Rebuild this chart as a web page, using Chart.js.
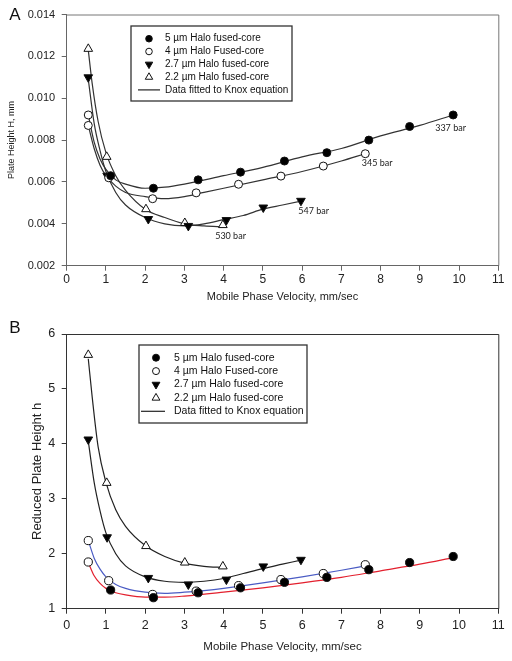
<!DOCTYPE html>
<html>
<head>
<meta charset="utf-8">
<script src="https://cdn.jsdelivr.net/npm/chart.js@4.4.1/dist/chart.umd.min.js"></script>
<style>
  body { margin: 0; background: #fff; }
  #wrap { position: relative; width: 512px; height: 661px; }
  canvas { position: absolute; left: 0; }
  #panelA { top: 0; }
  #panelB { top: 320px; }
</style>
</head>
<body>
<div id="wrap">
  <canvas id="panelA" width="512" height="320"></canvas>
  <canvas id="panelB" width="512" height="341"></canvas>
</div>
<script>
// values
const seriesNames = [
  "5 \u00b5m Halo fused-core",
  "4 \u00b5m Halo Fused-core",
  "2.7 \u00b5m Halo fused-core",
  "2.2 \u00b5m Halo fused-core",
];
const fitName = "Data fitted to Knox equation";
const barLabels = ["337 bar", "345 bar", "547 bar", "530 bar"];

// mobile phase velocity, mm/sec
const v5 = [0.55, 1.12, 2.21, 3.35, 4.43, 5.55, 6.63, 7.70, 8.74, 9.85];
const v4 = [0.55, 1.07, 2.19, 3.30, 4.38, 5.46, 6.54, 7.61];
const v27 = [0.55, 1.03, 2.08, 3.10, 4.07, 5.01, 5.97];
const v22 = [0.55, 1.02, 2.02, 3.01, 3.98];

// panel A - plate height H, mm
const H5 = [0.0092, 0.0063, 0.0057, 0.0061, 0.00647, 0.0070, 0.0074, 0.0080, 0.00865, 0.0092];
const H4 = [0.0087, 0.0062, 0.0052, 0.00548, 0.00589, 0.00628, 0.00676, 0.00735];
const H27 = [0.0110, 0.0063, 0.00423, 0.0039, 0.00418, 0.00478, 0.0051];
const H22 = [0.01236, 0.0072, 0.0047, 0.00404, 0.00394];

// panel B - reduced plate height h
const h5 = [1.85, 1.34, 1.20, 1.29, 1.38, 1.48, 1.57, 1.71, 1.84, 1.95];
const h4 = [2.24, 1.51, 1.26, 1.32, 1.42, 1.53, 1.64, 1.80];
const h27 = [4.08, 2.30, 1.56, 1.44, 1.53, 1.77, 1.89];
const h22 = [5.62, 3.29, 2.14, 1.84, 1.77];

// Knox fit curves
const fitV5 = [0.55, 0.7, 0.85, 1.0, 1.25, 1.5, 2.0, 2.5, 3.0, 4.0, 5.0, 6.0, 7.0, 8.0, 9.0, 9.85];
const fitV4 = [0.55, 0.7, 0.85, 1.0, 1.25, 1.5, 2.0, 2.5, 3.0, 3.5, 4.0, 5.0, 6.0, 7.0, 7.61];
const fitV27 = [0.55, 0.7, 0.85, 1.0, 1.25, 1.5, 2.0, 2.5, 3.0, 3.5, 4.0, 4.5, 5.0, 5.5, 6.0];
const fitV22 = [0.55, 0.65, 0.8, 1.0, 1.25, 1.5, 2.0, 2.5, 3.0, 3.5, 4.0];

const fitH5 = [0.0092, 0.0079, 0.0071, 0.0066, 0.0061, 0.0059, 0.0057, 0.00575, 0.0059, 0.0063, 0.0067, 0.0072, 0.0076, 0.0082, 0.0087, 0.0092];
const fitH4 = [0.0087, 0.0076, 0.0068, 0.0063, 0.0058, 0.0055, 0.0053, 0.0052, 0.0053, 0.0055, 0.0057, 0.0061, 0.0065, 0.0070, 0.00735];
const fitH27 = [0.0109, 0.0088, 0.0075, 0.0065, 0.0055, 0.0049, 0.0043, 0.0040, 0.0039, 0.0040, 0.0042, 0.0044, 0.0047, 0.0049, 0.0051];
const fitH22 = [0.0123, 0.0107, 0.0089, 0.0074, 0.0063, 0.0056, 0.0047, 0.0043, 0.0040, 0.0039, 0.00385];

const fith5 = [1.84, 1.6, 1.46, 1.37, 1.29, 1.25, 1.21, 1.21, 1.23, 1.30, 1.38, 1.47, 1.57, 1.69, 1.81, 1.93];
const fith4 = [2.24, 1.92, 1.72, 1.58, 1.44, 1.37, 1.30, 1.28, 1.30, 1.33, 1.37, 1.47, 1.58, 1.70, 1.78];
const fith27 = [4.05, 3.3, 2.78, 2.38, 2.0, 1.78, 1.58, 1.50, 1.48, 1.50, 1.55, 1.64, 1.73, 1.81, 1.89];
const fith22 = [5.55, 4.85, 3.95, 3.3, 2.8, 2.5, 2.15, 1.95, 1.83, 1.77, 1.75];

const FONT = "'Liberation Sans', Arial, sans-serif";
const pts = (xs, ys) => xs.map((x, i) => ({ x, y: ys[i] }));

const markers = [
  { pointStyle: "circle", fill: "#000", rotation: 0 },
  { pointStyle: "circle", fill: "#fff", rotation: 0 },
  { pointStyle: "triangle", fill: "#000", rotation: 180 },
  { pointStyle: "triangle", fill: "#fff", rotation: 0 },
];

function markerSet(i, xs, ys, sz) {
  const m = markers[i];
  // the first 5 um point is printed as an open circle in the original
  const fill = i === 0 ? xs.map((_, k) => (k === 0 ? "#fff" : "#000")) : m.fill;
  return {
    label: seriesNames[i],
    data: pts(xs, ys),
    showLine: false,
    pointStyle: m.pointStyle,
    pointRotation: m.rotation,
    pointRadius: m.pointStyle === "triangle" ? sz.tri : sz.circ,
    pointBackgroundColor: fill,
    pointBorderColor: "#111",
    pointBorderWidth: 1,
    order: 0,
  };
}

function curveSet(xs, ys, color) {
  return {
    label: fitName,
    data: pts(xs, ys),
    showLine: true,
    pointRadius: 0,
    borderColor: color,
    borderWidth: 1.2,
    cubicInterpolationMode: "monotone",
    fill: false,
    order: 1,
  };
}

// drawn legend box inside the plot
function legendPlugin(o) {
  return {
    id: "legendBox",
    afterDatasetsDraw(chart) {
      const ctx = chart.ctx;
      ctx.save();
      ctx.fillStyle = "#fff";
      ctx.fillRect(o.x, o.y, o.w, o.h);
      ctx.strokeStyle = "#333";
      ctx.lineWidth = 1.3;
      ctx.strokeRect(o.x, o.y, o.w, o.h);
      ctx.font = `${o.size}px ${FONT}`;
      ctx.textBaseline = "middle";
      seriesNames.forEach((name, i) => {
        const m = markers[i];
        const y = o.y + o.first + i * o.gap;
        ctx.fillStyle = m.fill;
        ctx.strokeStyle = "#111";
        ctx.lineWidth = 1;
        Chart.helpers.drawPoint(ctx, {
          pointStyle: m.pointStyle,
          rotation: m.rotation,
          radius: m.pointStyle === "triangle" ? o.tri : o.circ,
          borderWidth: 1,
        }, o.symX, y);
        ctx.fillStyle = "#111";
        ctx.fillText(name, o.textX, y);
      });
      const ly = o.y + o.first + 4 * o.gap;
      ctx.strokeStyle = "#222";
      ctx.lineWidth = 1.2;
      ctx.beginPath();
      ctx.moveTo(o.lineX0, ly);
      ctx.lineTo(o.lineX1, ly);
      ctx.stroke();
      ctx.fillStyle = "#111";
      ctx.fillText(fitName, o.textX, ly);
      ctx.restore();
    },
  };
}

function framePlugin(color, letter, letterY) {
  return {
    id: "frame",
    afterDraw(chart) {
      const { ctx, chartArea: a } = chart;
      ctx.save();
      ctx.strokeStyle = color;
      ctx.lineWidth = 1;
      ctx.beginPath();
      ctx.moveTo(a.left, a.top + 0.5);
      ctx.lineTo(a.right + 0.5, a.top + 0.5);
      ctx.lineTo(a.right + 0.5, a.bottom);
      ctx.stroke();
      ctx.fillStyle = "#111";
      ctx.font = `17px ${FONT}`;
      ctx.textAlign = "center";
      ctx.textBaseline = "middle";
      ctx.fillText(letter, 15, letterY);
      ctx.restore();
    },
  };
}

// pressure notes next to the last point of each series in panel A
const notesPlugin = {
  id: "notes",
  afterDatasetsDraw(chart) {
    const offsets = [[-18, 12.7], [-3.6, 9], [-2.7, 10], [-7.7, 10.7]];
    const ctx = chart.ctx;
    ctx.save();
    ctx.font = "9px Lato, 'Open Sans', sans-serif";
    ctx.fillStyle = "#222";
    ctx.textBaseline = "middle";
    barLabels.forEach((txt, i) => {
      const meta = chart.getDatasetMeta(i);
      const last = meta.data[meta.data.length - 1];
      ctx.fillText(txt, last.x + offsets[i][0], last.y + offsets[i][1]);
    });
    ctx.restore();
  },
};

function panel(canvas, o) {
  return new Chart(canvas, {
    type: "scatter",
    data: { datasets: o.datasets },
    options: {
      responsive: false,
      animation: false,
      devicePixelRatio: 1,
      layout: { padding: { top: o.padTop, right: 13.7, left: 0, bottom: 0 } },
      plugins: { legend: { display: false }, tooltip: { enabled: false } },
      scales: {
        x: {
          type: "linear",
          min: 0,
          max: 11,
          afterFit: (s) => { s.height = o.xHeight; },
          border: { display: true, color: o.ink, width: 1 },
          grid: { drawOnChartArea: false, drawTicks: true, tickLength: 5, color: o.ink },
          ticks: { stepSize: 1, color: "#222", padding: o.xTickPad, font: { family: FONT, size: o.xTickSize } },
          title: {
            display: true,
            text: "Mobile Phase Velocity, mm/sec",
            color: "#222",
            font: { family: FONT, size: o.xTitleSize },
            padding: { top: 0, bottom: o.xTitlePad },
          },
        },
        y: {
          type: "linear",
          min: o.yMin,
          max: o.yMax,
          afterFit: (s) => { s.width = 66.7; },
          border: { display: true, color: o.ink, width: 1 },
          grid: { drawOnChartArea: false, drawTicks: true, tickLength: 5, color: o.ink },
          ticks: {
            stepSize: o.yStep,
            color: "#222",
            padding: 6.5,
            font: { family: FONT, size: o.yTickSize },
            callback: o.yFormat,
          },
          title: {
            display: true,
            text: o.yTitle,
            color: "#222",
            font: { family: FONT, size: o.yTitleSize },
            padding: { top: o.yTitlePad, bottom: 0 },
          },
        },
      },
    },
    plugins: o.plugins,
  });
}

const sizeA = { circ: 4, tri: 5 };
panel(document.getElementById("panelA"), {
  datasets: [
    markerSet(0, v5, H5, sizeA),
    markerSet(1, v4, H4, sizeA),
    markerSet(2, v27, H27, sizeA),
    markerSet(3, v22, H22, sizeA),
    curveSet(fitV5, fitH5, "#333"),
    curveSet(fitV4, fitH4, "#333"),
    curveSet(fitV27, fitH27, "#333"),
    curveSet(fitV22, fitH22, "#333"),
  ],
  padTop: 14.5,
  xHeight: 54.3,
  ink: "#666",
  xTickSize: 12,
  xTickPad: 1.7,
  xTitleSize: 11,
  xTitlePad: 16.4,
  yMin: 0.002,
  yMax: 0.014,
  yStep: 0.002,
  yTickSize: 11,
  yFormat: (v) => v.toFixed(3),
  yTitle: "Plate Height H, mm",
  yTitleSize: 9,
  yTitlePad: 6.6,
  plugins: [
    legendPlugin({ x: 131, y: 26, w: 161, h: 75, first: 12.7, gap: 12.8, symX: 149, textX: 165, lineX0: 138, lineX1: 160, size: 10, circ: 3.3, tri: 4.3 }),
    framePlugin("#777", "A", 15),
    notesPlugin,
  ],
});

const sizeB = { circ: 4.1, tri: 5 };
panel(document.getElementById("panelB"), {
  datasets: [
    markerSet(0, v5, h5, sizeB),
    markerSet(1, v4, h4, sizeB),
    markerSet(2, v27, h27, sizeB),
    markerSet(3, v22, h22, sizeB),
    curveSet(fitV5, fith5, "#e3202e"),
    curveSet(fitV4, fith4, "#4b5cc4"),
    curveSet(fitV27, fith27, "#222"),
    curveSet(fitV22, fith22, "#222"),
  ],
  padTop: 9.5,
  xHeight: 52.3,
  ink: "#333",
  xTickSize: 12.5,
  xTickPad: 4,
  xTitleSize: 11.5,
  xTitlePad: 7.5,
  yMin: 1,
  yMax: 6,
  yStep: 1,
  yTickSize: 12.5,
  yFormat: (v) => String(v),
  yTitle: "Reduced Plate Height h",
  yTitleSize: 13,
  yTitlePad: 29.2,
  plugins: [
    legendPlugin({ x: 139, y: 25, w: 168, h: 78, first: 12.7, gap: 13.4, symX: 156, textX: 174, lineX0: 141, lineX1: 165, size: 10.5, circ: 3.5, tri: 4.5 }),
    framePlugin("#333", "B", 8),
  ],
});
</script>
</body>
</html>
